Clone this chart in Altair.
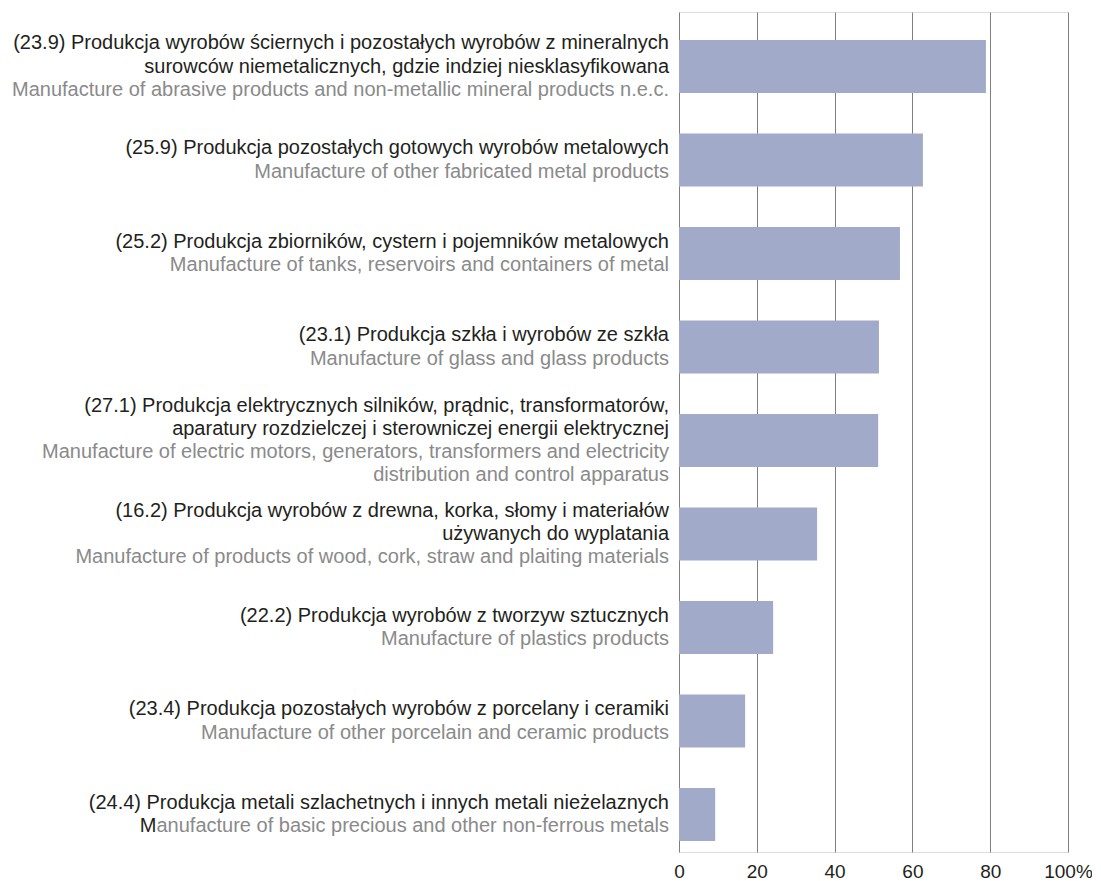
import altair as alt
import pandas as pd

codes = ["23.9", "25.9", "25.2", "23.1", "27.1", "16.2", "22.2", "23.4", "24.4"]

pl_lines = [
    ["(23.9) Produkcja wyrobów ściernych i pozostałych wyrobów z mineralnych",
     "surowców niemetalicznych, gdzie indziej niesklasyfikowana"],
    ["(25.9) Produkcja pozostałych gotowych wyrobów metalowych"],
    ["(25.2) Produkcja zbiorników, cystern i pojemników metalowych"],
    ["(23.1) Produkcja szkła i wyrobów ze szkła"],
    ["(27.1) Produkcja elektrycznych silników, prądnic, transformatorów,",
     "aparatury rozdzielczej i sterowniczej energii elektrycznej"],
    ["(16.2) Produkcja wyrobów z drewna, korka, słomy i materiałów",
     "używanych do wyplatania"],
    ["(22.2) Produkcja wyrobów z tworzyw sztucznych"],
    ["(23.4) Produkcja pozostałych wyrobów z porcelany i ceramiki"],
    ["(24.4) Produkcja metali szlachetnych i innych metali nieżelaznych"],
]

en_lines = [
    ["Manufacture of abrasive products and non-metallic mineral products n.e.c."],
    ["Manufacture of other fabricated metal products"],
    ["Manufacture of tanks, reservoirs and containers of metal"],
    ["Manufacture of glass and glass products"],
    ["Manufacture of electric motors, generators, transformers and electricity",
     "distribution and control apparatus"],
    ["Manufacture of products of wood, cork, straw and plaiting materials"],
    ["Manufacture of plastics products"],
    ["Manufacture of other porcelain and ceramic products"],
    ["Manufacture of basic precious and other non-ferrous metals"],
]

# leading characters of the first English line printed in black (as in the original)
black_lead = [0, 0, 0, 0, 0, 0, 0, 0, 1]

values = [78.9, 62.7, 56.8, 51.4, 51.2, 35.5, 24.2, 17.0, 9.3]

x_ticks = [0, 20, 40, 60, 80, 100]

FONT = "Liberation Sans"
LINE_H = 23.2
FS = 20

bar_df = pd.DataFrame({"key": codes, "value": values})

line_rows = []
for c, pl, en, lead in zip(codes, pl_lines, en_lines, black_lead):
    n = len(pl) + len(en)
    for i, t in enumerate(pl):
        line_rows.append({"key": c, "pos": i - (n - 1) / 2, "grp": "pl", "t": t})
    for j, t in enumerate(en):
        p = len(pl) + j - (n - 1) / 2
        if lead and j == 0:
            line_rows.append({"key": c, "pos": p, "grp": "pl", "t": t})
            line_rows.append({"key": c, "pos": p, "grp": "erase", "t": t[lead:]})
            line_rows.append({"key": c, "pos": p, "grp": "en", "t": t[lead:]})
        else:
            line_rows.append({"key": c, "pos": p, "grp": "en", "t": t})
lines_df = pd.DataFrame(line_rows)

yscale = alt.Scale(domain=codes, paddingInner=0.4332, paddingOuter=0.2086,
                   align=0.718, round=False)

x_enc = alt.X("value:Q", scale=alt.Scale(domain=[0, 100], nice=False),
              axis=alt.Axis(values=x_ticks, title="", grid=True, gridColor="#7f7f7f",
                            gridWidth=1, domain=False, ticks=False, labelFlush=False,
                            labelFontSize=19, labelFont=FONT,
                            labelColor="#231f20", labelPadding=10,
                            labelExpr="datum.value == 100 ? '100%' : datum.label"))
y_enc = alt.Y("key:N", scale=yscale, sort=codes, axis=None)

bars = alt.Chart(bar_df).mark_bar(color="#a1aac8").encode(x=x_enc, y=y_enc)

color_enc = alt.Color("grp:N", scale=alt.Scale(domain=["pl", "erase", "en"],
                                               range=["#231f20", "#ffffff", "#8a8a8a"]),
                      legend=None)
stroke_w = alt.condition(alt.datum.grp == "erase", alt.value(2), alt.value(0))

layers = [bars]
for p in sorted(lines_df["pos"].unique()):
    layers.append(
        alt.Chart(lines_df).transform_filter(alt.datum.pos == float(p)).mark_text(
            align="right", baseline="middle", dx=-10, dy=float(p) * LINE_H,
            font=FONT, fontSize=FS, stroke="#ffffff"
        ).encode(x=alt.datum(0), y=y_enc, text="t:N", color=color_enc,
                 strokeWidth=stroke_w)
    )

chart = alt.layer(*layers).properties(
    width=389, height=840,
    autosize=alt.AutoSizeParams(type="none"),
    padding={"left": 671, "top": 4, "right": 24, "bottom": 29},
).configure_view(stroke=None).configure(background="white")

chart.save("out.html", embed_options={"renderer": "svg", "actions": False})
